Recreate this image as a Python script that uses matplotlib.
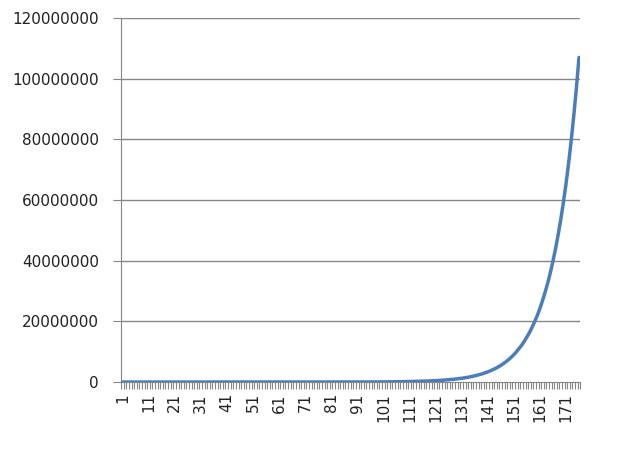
import numpy as np
import matplotlib
matplotlib.use("Agg")
import matplotlib.pyplot as plt

# values, in millions (points 1..176)
vals_mil = [
    0, 0, 0, 0, 0, 0, 0, 0, 0, 0,                                  # 1-10
    0, 0, 0, 0, 0, 0, 0, 0, 0, 0,                                  # 11-20
    0, 0, 0, 0, 0, 0, 0, 0, 0, 0,                                  # 21-30
    0, 0, 0, 0, 0, 0, 0, 0, 0, 0,                                  # 31-40
    0, 0, 0, 0, 0, 0, 0, 0, 0, 0,                                  # 41-50
    0, 0, 0, 0, 0, 0, 0, 0, 0, 0,                                  # 51-60
    0, 0, 0, 0, 0, 0, 0, 0, 0, 0,                                  # 61-70
    0, 0, 0, 0, 0, 0, 0, 0, 0, 0,                                  # 71-80
    0.01, 0.01, 0.01, 0.01, 0.01, 0.01, 0.01, 0.01, 0.02, 0.02,    # 81-90
    0.02, 0.02, 0.03, 0.03, 0.03, 0.03, 0.04, 0.04, 0.04, 0.05,    # 91-100
    0.06, 0.06, 0.07, 0.08, 0.08, 0.09, 0.10, 0.11, 0.13,          # 101-109
    0.15, 0.17, 0.19, 0.21, 0.23, 0.25, 0.28, 0.31, 0.34, 0.38,    # 110-119
    0.42, 0.46, 0.51, 0.56, 0.62, 0.69, 0.76, 0.84, 0.92, 1.02,    # 120-129
    1.13, 1.24, 1.37, 1.51, 1.67, 1.85, 2.04, 2.25, 2.49, 2.74,    # 130-139
    3.03, 3.35, 3.69, 4.08, 4.50, 4.97, 5.49, 6.06, 6.69, 7.39,    # 140-149
    8.16, 9.00, 9.95, 11.0, 12.1, 13.4, 14.8, 16.3, 18.0, 19.9,    # 150-159
    21.9, 24.2, 26.8, 29.6, 32.6, 36.0, 39.8, 43.9, 48.5, 53.5,    # 160-169
    59.1, 65.2, 72.0, 79.5, 87.8, 96.9, 107.0,                     # 170-176
]
yticks = [0, 20000000, 40000000, 60000000, 80000000, 100000000, 120000000]

values = np.array(vals_mil) * 1e6
points = np.arange(1, len(values) + 1)

plt.rcParams['font.family'] = ['DejaVu Sans']

fig = plt.figure(figsize=(6.18, 4.5), dpi=100)
ax = fig.add_axes([0.196, 0.151, 0.743, 0.809])

grid_col = '#868686'
for y in yticks[1:]:
    ax.axhline(y, color=grid_col, lw=1.0, zorder=1)

ax.plot(points, values, color='#4A7EBB', lw=2.5, solid_capstyle='round', zorder=3)

ax.set_xlim(0.5, len(values) + 0.5)
ax.set_ylim(0, 120000000)
ax.set_yticks(yticks)
ax.set_yticklabels([str(v) for v in yticks])

ax.set_xticks(points[::10])
ax.set_xticklabels([str(p) for p in points[::10]], rotation=90)
ax.set_xticks(np.arange(0.5, len(values) + 1, 1), minor=True)

for s in ['top', 'right']:
    ax.spines[s].set_visible(False)
ax.spines['left'].set_color(grid_col)
ax.spines['bottom'].set_color(grid_col)
ax.spines['left'].set_zorder(2)

ax.tick_params(axis='y', length=6, color=grid_col, labelsize=11, pad=10, labelcolor='#222222')
ax.tick_params(axis='x', which='major', length=0, labelsize=11, pad=8, labelcolor='#222222')
ax.tick_params(axis='x', which='minor', length=5, width=0.8, color=grid_col)

fig.savefig('out.png', dpi=100, facecolor='white')
